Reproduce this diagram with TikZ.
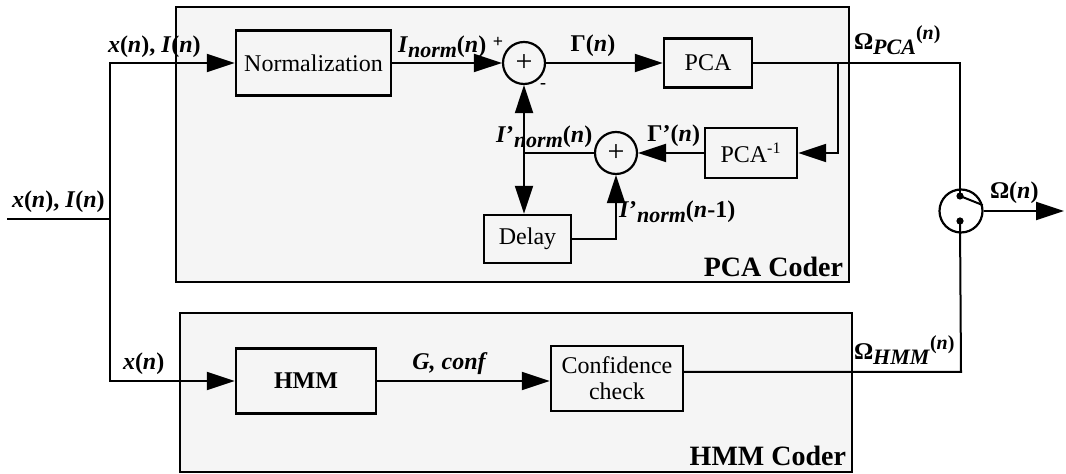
\documentclass[tikz,border=0pt]{standalone}
\usepackage{fontspec}
\setmainfont{Liberation Serif}
\usetikzlibrary{arrows.meta}
\newcommand{\lsub}[1]{\raisebox{-.5ex}{\fontsize{11}{11}\selectfont #1}}
\newcommand{\lsup}[1]{\raisebox{.9ex}{\fontsize{10}{10}\selectfont #1}}

\begin{document}
\begin{tikzpicture}[x=.5pt,y=-.5pt,line width=1pt,font=\fontsize{12}{13}\selectfont,
  coder/.style={draw,line width=1.2pt,fill=black!4},
  blk/.style={draw,line width=1.2pt,fill=black!4,inner sep=1pt,align=center},
  sumnode/.style={draw,circle,line width=1.1pt,minimum size=21pt,inner sep=0pt,fill=black!4,font=\fontsize{15}{15}\selectfont},
  arr/.style={-{Triangle[length=14pt,width=9pt]}},
  lbl/.style={inner sep=1pt,font=\fontsize{12}{13}\selectfont\bfseries}]
\useasboundingbox (0,0) rectangle (1066,474);
% coder frames
\draw[coder] (176,7) rectangle (849,282);
\draw[coder] (180,313) rectangle (852,472);
\node[anchor=south east,inner sep=1pt,font=\fontsize{14}{14}\selectfont\bfseries] (pcatitle) at (846,280) {PCA Coder};
\node[anchor=south east,inner sep=1pt,font=\fontsize{14}{14}\selectfont\bfseries] (hmmtitle) at (849,469) {HMM Coder};
% blocks
\node[blk,minimum width=77.5pt,minimum height=32.5pt] (norm) at (313.5,63) {Normalization};
\node[sumnode] (s1) at (524,63) {+};
\node[blk,minimum width=44pt,minimum height=24.5pt] (pca) at (708,63) {PCA};
\node[blk,minimum width=46pt,minimum height=25pt] (pcainv) at (751,153) {PCA\textsuperscript{-1}};
\node[sumnode] (s2) at (616,153) {+};
\node[blk,minimum width=43.5pt,minimum height=24pt] (delay) at (527.5,239) {Delay};
\node[blk,minimum width=70pt,minimum height=32.5pt,font=\fontsize{12}{13}\selectfont\bfseries] (hmm) at (306,381) {HMM};
\node[blk,minimum width=66pt,minimum height=32.5pt] (conf) at (617,378.5) {Confidence\\check};
\node[draw,circle,line width=1.1pt,minimum size=21.5pt,inner sep=0pt,fill=white] (sw) at (961,211) {};
% points
\coordinate (in) at (7,219);
\coordinate (split) at (110,219);
\coordinate (jn) at (524,153);
\coordinate (br) at (838,63);
\coordinate (hmmout) at (961,372);
\coordinate (out) at (1064,211);
\coordinate (swtop) at (960,196);
\coordinate (swbot) at (960,221);
% connectors
\draw (in) -- (split);
\draw[arr] (split) |- (norm.west);
\draw[arr] (split) |- (hmm.west);
\draw[arr] (norm) -- (s1);
\draw[arr] (s1) -- (pca);
\draw (pca.east) -| (swtop);
\draw[arr] (br) |- (pcainv.east);
\draw[arr] (pcainv) -- (s2);
\draw (s2) -- (jn);
\draw[arr] (jn) -- (s1.south);
\draw[arr] (jn) -- (jn |- delay.north);
\draw[arr] (delay.east) -| (s2.south);
\draw[arr] (hmm) -- (hmm -| conf.west);
\draw (conf.east |- hmmout) -- (hmmout) -- (swbot);
\draw[arr] (sw.east) -- (out);
\draw (swtop) -- (sw.15);
\fill (swtop) circle (1.8pt);
\fill (swbot) circle (1.8pt);
% labels
\node[lbl,anchor=south west] (lin) at (9,216) {\textit{x}(\textit{n}), \textit{I}(\textit{n})};
\node[lbl,anchor=south west] (ltop) at (105,61) {\textit{x}(\textit{n}), \textit{I}(\textit{n})};
\node[lbl,anchor=south west] (lnorm) at (395,61) {\textit{I}\lsub{\textit{norm}}(\textit{n})};
\node[inner sep=0pt,font=\fontsize{9}{9}\selectfont\bfseries] (plus) at (498,42) {+};
\node[inner sep=0pt,font=\fontsize{9}{9}\selectfont\bfseries] (minus) at (543,86) {-};
\node[lbl,anchor=south] (lgam) at (593,60) {Γ(\textit{n})};
\node[lbl,anchor=south west] (lopca) at (851,58) {Ω\lsub{\textit{PCA}}\lsup{(\textit{n})}};
\node[lbl,anchor=south east] (lgamp) at (703,150) {Γ’(\textit{n})};
\node[lbl,anchor=south west] (lnormp) at (493,151) {\textit{I}’\lsub{\textit{norm}}(\textit{n})};
\node[lbl,anchor=west] (lnormd) at (616,212) {\textit{I}’\lsub{\textit{norm}}(\textit{n}-1)};
\node[lbl,anchor=south west] (lom) at (987,207) {Ω(\textit{n})};
\node[lbl,anchor=south west] (lx) at (120,378) {\textit{x}(\textit{n})};
\node[lbl,anchor=south] (lg) at (450,378) {\textit{G, conf}};
\node[lbl,anchor=south west] (lohmm) at (851,368) {Ω\lsub{\textit{HMM}}\lsup{(\textit{n})}};
\end{tikzpicture}
\end{document}
